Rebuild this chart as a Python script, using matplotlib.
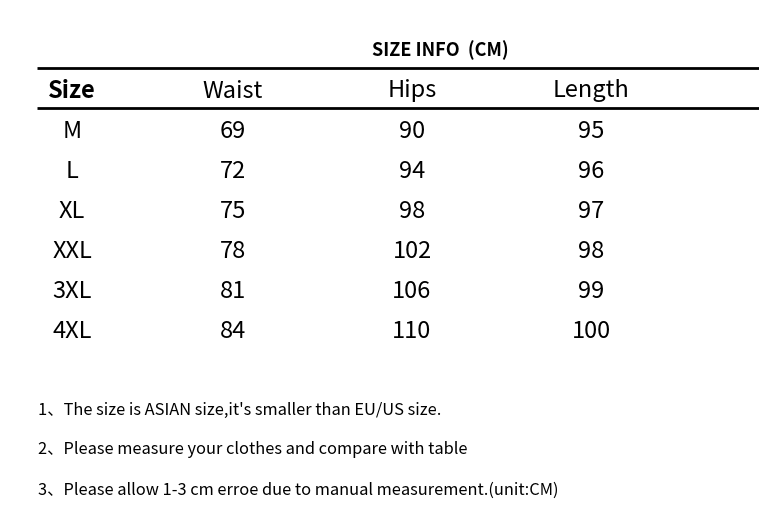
import matplotlib.pyplot as plt

# Data
columns = ["Size", "Waist", "Hips", "Length"]
sizes = ["M", "L", "XL", "XXL", "3XL", "4XL"]
waist = [69, 72, 75, 78, 81, 84]
hips = [90, 94, 98, 102, 106, 110]
length = [95, 96, 97, 98, 99, 100]
title = "SIZE INFO  (CM)"
notes = [
    "1、The size is ASIAN size,it's smaller than EU/US size.",
    "2、Please measure your clothes and compare with table",
    "3、Please allow 1-3 cm erroe due to manual measurement.(unit:CM)",
]

fonts = ["Noto Sans CJK SC", "DejaVu Sans"]
plt.rcParams['font.family'] = fonts

W, H = 759, 531
fig = plt.figure(figsize=(W / 100, H / 100), dpi=100)
ax = fig.add_axes([0, 0, 1, 1])
ax.set_xlim(0, W)
ax.set_ylim(H, 0)
ax.axis('off')

col_x = [72, 233, 412, 591]
row_y0, row_dy = 131, 40

ax.text(440, 50, title, ha='center', va='center', fontsize=13, fontweight='bold')

# rules
ax.plot([37, W], [68, 68], color='black', lw=2, solid_capstyle='butt')
ax.plot([37, W], [108, 108], color='black', lw=2, solid_capstyle='butt')

for i, c in enumerate(columns):
    ax.text(col_x[i], 91, c, ha='center', va='center', fontsize=17,
            fontweight='bold' if i == 0 else 'normal')

for r, s in enumerate(sizes):
    y = row_y0 + r * row_dy
    vals = [s, waist[r], hips[r], length[r]]
    for i, v in enumerate(vals):
        ax.text(col_x[i], y, str(v), ha='center', va='center', fontsize=17)

for k, n in enumerate(notes):
    ax.text(38, 410 + k * 40, n, ha='left', va='center', fontsize=11.8)

plt.savefig("out.png", dpi=100)
